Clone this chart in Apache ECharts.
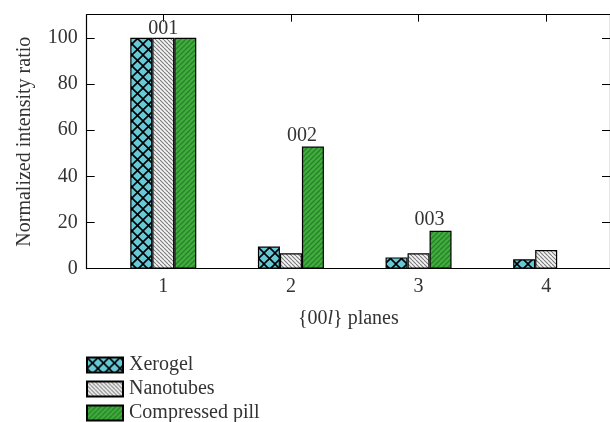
<!DOCTYPE html>
<html>
<head>
<meta charset="utf-8">
<script src="https://cdn.jsdelivr.net/npm/echarts@6/dist/echarts.min.js"></script>
<style>
  html, body { margin: 0; padding: 0; background: #fff; }
  #chart { width: 610px; height: 422px; }
</style>
</head>
<body>
<div id="chart"></div>
<script>
// {00l} reflection planes and normalized intensity per sample
const planes = [1, 2, 3, 4];
const xerogel = [100, 9.6, 4.9, 4.1];
const nanotubes = [100, 6.7, 6.7, 8.1];
const compressedPill = [100, 52.9, 16.4, null];
const yTicks = [0, 20, 40, 60, 80, 100];
const peakLabels = ['001', '002', '003'];

const FONT = '"Liberation Serif", "DejaVu Serif", serif';
const FS = 20;
const TEXT = '#333';

// Hatch fills drawn on small tiles
function tile(size, bg, draw) {
  const c = document.createElement('canvas');
  c.width = size; c.height = size;
  const g = c.getContext('2d');
  g.fillStyle = bg;
  g.fillRect(0, 0, size, size);
  draw(g, size);
  return { image: c, repeat: 'repeat' };
}
function diag(g, s, dir) {
  for (let k = -1; k <= 1; k++) {
    g.beginPath();
    if (dir > 0) { g.moveTo(k * s, s); g.lineTo(k * s + s, 0); }
    else { g.moveTo(k * s, 0); g.lineTo(k * s + s, s); }
    g.stroke();
  }
}
const crossFill = tile(11, '#68c9d6', (g, s) => {
  g.strokeStyle = '#000'; g.lineWidth = 1.6;
  diag(g, s, 1); diag(g, s, -1);
});
const greyFill = tile(4, '#f4f4f4', (g, s) => {
  g.strokeStyle = '#7a7a7a'; g.lineWidth = 1.1;
  diag(g, s, -1);
});
const greenFill = tile(5, '#3fae3c', (g, s) => {
  g.strokeStyle = '#2a7f2a'; g.lineWidth = 1.3;
  diag(g, s, 1);
});

function seriesData(values, labelIdx) {
  return values.map((v, i) => {
    const item = { value: [planes[i], v] };
    if (labelIdx[i] !== undefined) {
      item.label = {
        show: true, position: 'top', distance: labelIdx[i] === 0 ? -1 : 1,
        formatter: peakLabels[labelIdx[i]],
        offset: labelIdx[i] === 0 ? [0, 0] : [-11, 0],
        color: TEXT, fontFamily: FONT, fontSize: FS
      };
    }
    return item;
  });
}

const barStyle = (fill) => ({ color: fill, borderColor: '#000', borderWidth: 1.2 });
const axisLine = { show: true, onZero: false, lineStyle: { color: '#000', width: 1.2 } };

const chart = echarts.init(document.getElementById('chart'), null, { renderer: 'canvas' });
chart.setOption({
  animation: false,
  grid: { left: 86.7, right: -6, top: 14.7, bottom: 153.3 },
  legend: {
    orient: 'vertical', left: 86, top: 355, height: 120, padding: 0,
    icon: 'rect', itemWidth: 36, itemHeight: 15, itemGap: 4,
    textStyle: { fontFamily: FONT, fontSize: FS, lineHeight: 15, color: TEXT, padding: [0, 0, 0, 1] },
    data: ['Xerogel', 'Nanotubes', 'Compressed pill']
  },
  xAxis: [{
    type: 'value', min: 0.4, max: 4.5,
    name: '{00{i|l}} planes', nameLocation: 'middle', nameGap: 40,
    nameTextStyle: { fontFamily: FONT, fontSize: FS, color: TEXT, rich: { i: { fontStyle: 'italic', fontFamily: FONT, fontSize: FS, color: TEXT } } },
    axisLine: axisLine,
    axisTick: { inside: true, length: 5, customValues: planes, lineStyle: { color: '#000' } },
    axisLabel: { customValues: planes, margin: 8, fontFamily: FONT, fontSize: FS, color: TEXT },
    splitLine: { show: false }
  }, {
    type: 'value', min: 0.4, max: 4.5, position: 'top',
    axisLine: axisLine,
    axisTick: { inside: true, length: 7, customValues: planes, lineStyle: { color: '#000' } },
    axisLabel: { show: false },
    splitLine: { show: false }
  }],
  yAxis: [{
    type: 'value', min: 0, max: 110,
    name: 'Normalized intensity ratio', nameLocation: 'middle', nameGap: 52,
    nameTextStyle: { fontFamily: FONT, fontSize: FS, color: TEXT },
    axisLine: axisLine,
    axisTick: { inside: true, length: 8, customValues: yTicks, lineStyle: { color: '#000' } },
    axisLabel: { customValues: yTicks, margin: 9, fontFamily: FONT, fontSize: FS, color: TEXT },
    splitLine: { show: false }
  }, {
    type: 'value', min: 0, max: 110, position: 'right',
    axisLine: axisLine,
    axisTick: { inside: true, length: 8, customValues: yTicks, lineStyle: { color: '#000' } },
    axisLabel: { show: false },
    splitLine: { show: false }
  }],
  series: [
    { name: 'Xerogel', type: 'bar', barWidth: 22, barGap: '0%', itemStyle: barStyle(crossFill), data: seriesData(xerogel, {}) },
    { name: 'Nanotubes', type: 'bar', barWidth: 22, barGap: '0%', itemStyle: barStyle(greyFill), data: seriesData(nanotubes, { 0: 0 }) },
    { name: 'Compressed pill', type: 'bar', barWidth: 22, barGap: '0%', itemStyle: barStyle(greenFill), data: seriesData(compressedPill, { 1: 1, 2: 2 }) }
  ]
});
</script>
</body>
</html>
